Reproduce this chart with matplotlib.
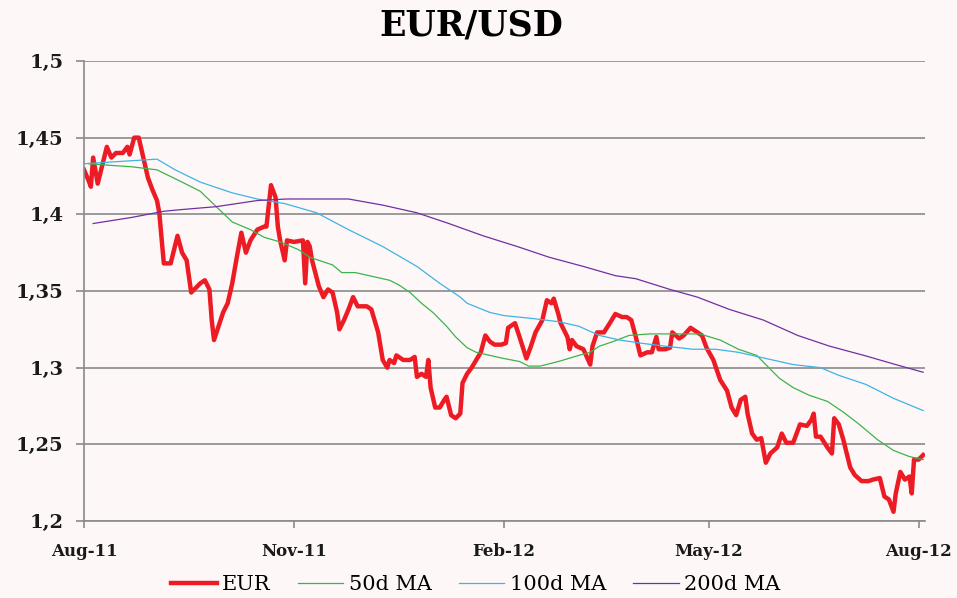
import pandas as pd
import matplotlib
matplotlib.use("Agg")
import matplotlib.pyplot as plt
import matplotlib.dates as mdates
from matplotlib.ticker import FuncFormatter, MultipleLocator

plt.rcParams['font.family'] = ['DejaVu Serif']

# EUR/USD spot
eur_dates = [
    "2011-08-01", "2011-08-03", "2011-08-04", "2011-08-05", "2011-08-07", "2011-08-11",
    "2011-08-13", "2011-08-15", "2011-08-18", "2011-08-20", "2011-08-21", "2011-08-23",
    "2011-08-25", "2011-08-27", "2011-08-29", "2011-08-31", "2011-09-02", "2011-09-03",
    "2011-09-05", "2011-09-08", "2011-09-11", "2011-09-13", "2011-09-15", "2011-09-17",
    "2011-09-19", "2011-09-21", "2011-09-23", "2011-09-25", "2011-09-26", "2011-09-27",
    "2011-10-01", "2011-10-03", "2011-10-05", "2011-10-07", "2011-10-09", "2011-10-11",
    "2011-10-13", "2011-10-16", "2011-10-19", "2011-10-20", "2011-10-22", "2011-10-24",
    "2011-10-25", "2011-10-26", "2011-10-28", "2011-10-29", "2011-11-01", "2011-11-05",
    "2011-11-06", "2011-11-07", "2011-11-08", "2011-11-09", "2011-11-12", "2011-11-14",
    "2011-11-16", "2011-11-18", "2011-11-20", "2011-11-21", "2011-11-23", "2011-11-25",
    "2011-11-27", "2011-11-29", "2011-12-03", "2011-12-05", "2011-12-08", "2011-12-10",
    "2011-12-12", "2011-12-13", "2011-12-15", "2011-12-16", "2011-12-19", "2011-12-22",
    "2011-12-24", "2011-12-25", "2011-12-27", "2011-12-29", "2011-12-30", "2011-12-31",
    "2012-01-02", "2012-01-04", "2012-01-06", "2012-01-07", "2012-01-09", "2012-01-11",
    "2012-01-13", "2012-01-14", "2012-01-16", "2012-01-18", "2012-01-20", "2012-01-22",
    "2012-01-24", "2012-01-26", "2012-01-28", "2012-01-31", "2012-02-02", "2012-02-03",
    "2012-02-06", "2012-02-08", "2012-02-11", "2012-02-13", "2012-02-15", "2012-02-18",
    "2012-02-20", "2012-02-22", "2012-02-23", "2012-02-25", "2012-02-26", "2012-02-29",
    "2012-03-01", "2012-03-02", "2012-03-04", "2012-03-07", "2012-03-10", "2012-03-11",
    "2012-03-13", "2012-03-16", "2012-03-19", "2012-03-21", "2012-03-24", "2012-03-26",
    "2012-03-28", "2012-03-30", "2012-04-01", "2012-04-04", "2012-04-06", "2012-04-08",
    "2012-04-09", "2012-04-12", "2012-04-14", "2012-04-15", "2012-04-18", "2012-04-20",
    "2012-04-23", "2012-04-26", "2012-04-28", "2012-04-30", "2012-05-03", "2012-05-06",
    "2012-05-09", "2012-05-11", "2012-05-13", "2012-05-15", "2012-05-17", "2012-05-18",
    "2012-05-20", "2012-05-22", "2012-05-24", "2012-05-26", "2012-05-28", "2012-05-31",
    "2012-06-02", "2012-06-04", "2012-06-07", "2012-06-10", "2012-06-13", "2012-06-15",
    "2012-06-16", "2012-06-17", "2012-06-19", "2012-06-22", "2012-06-24", "2012-06-25",
    "2012-06-27", "2012-06-29", "2012-07-02", "2012-07-04", "2012-07-07", "2012-07-10",
    "2012-07-12", "2012-07-15", "2012-07-17", "2012-07-19", "2012-07-21", "2012-07-22",
    "2012-07-24", "2012-07-26", "2012-07-28", "2012-07-29", "2012-07-30", "2012-08-01",
    "2012-08-03",
]
eur_values = [
    1.429, 1.422, 1.418, 1.437, 1.420, 1.444,
    1.437, 1.440, 1.440, 1.444, 1.439, 1.450,
    1.450, 1.437, 1.424, 1.416, 1.409, 1.401,
    1.368, 1.368, 1.386, 1.375, 1.370, 1.349,
    1.352, 1.355, 1.357, 1.351, 1.331, 1.318,
    1.336, 1.342, 1.355, 1.372, 1.388, 1.375,
    1.383, 1.390, 1.392, 1.392, 1.419, 1.411,
    1.392, 1.383, 1.370, 1.383, 1.382, 1.383,
    1.355, 1.382, 1.379, 1.370, 1.353, 1.346,
    1.351, 1.349, 1.336, 1.325, 1.331, 1.338,
    1.346, 1.340, 1.340, 1.338, 1.323, 1.305,
    1.300, 1.305, 1.303, 1.308, 1.305, 1.305,
    1.307, 1.294, 1.296, 1.294, 1.305, 1.287,
    1.274, 1.274, 1.279, 1.281, 1.269, 1.267,
    1.270, 1.290, 1.296, 1.300, 1.305, 1.310,
    1.321, 1.317, 1.315, 1.315, 1.316, 1.326,
    1.329, 1.320, 1.306, 1.314, 1.323, 1.331,
    1.344, 1.342, 1.345, 1.335, 1.329, 1.320,
    1.312, 1.318, 1.314, 1.312, 1.302, 1.314,
    1.323, 1.323, 1.330, 1.335, 1.333, 1.333,
    1.331, 1.320, 1.308, 1.310, 1.310, 1.320,
    1.312, 1.312, 1.313, 1.323, 1.319, 1.321,
    1.326, 1.323, 1.321, 1.313, 1.305, 1.292,
    1.285, 1.274, 1.269, 1.279, 1.281, 1.270,
    1.257, 1.253, 1.254, 1.238, 1.244, 1.248,
    1.257, 1.251, 1.251, 1.263, 1.262, 1.266,
    1.270, 1.255, 1.255, 1.248, 1.244, 1.267,
    1.263, 1.253, 1.235, 1.230, 1.226, 1.226,
    1.227, 1.228, 1.216, 1.214, 1.206, 1.218,
    1.232, 1.227, 1.229, 1.218, 1.240, 1.240,
    1.243,
]

ma50_dates = [
    "2011-08-03", "2011-08-12", "2011-08-22", "2011-09-02", "2011-09-13", "2011-09-21",
    "2011-09-28", "2011-10-05", "2011-10-13", "2011-10-19", "2011-10-26", "2011-11-03",
    "2011-11-08", "2011-11-18", "2011-11-22", "2011-11-28", "2011-12-07", "2011-12-13",
    "2011-12-17", "2011-12-22", "2011-12-27", "2012-01-01", "2012-01-07", "2012-01-11",
    "2012-01-16", "2012-01-20", "2012-01-26", "2012-02-01", "2012-02-08", "2012-02-12",
    "2012-02-17", "2012-02-25", "2012-03-05", "2012-03-10", "2012-03-14", "2012-03-20",
    "2012-03-27", "2012-04-05", "2012-04-15", "2012-04-27", "2012-05-06", "2012-05-14",
    "2012-05-22", "2012-05-26", "2012-06-01", "2012-06-07", "2012-06-14", "2012-06-22",
    "2012-06-29", "2012-07-06", "2012-07-14", "2012-07-21", "2012-07-28", "2012-08-03",
]
ma50_values = [
    1.433, 1.432, 1.431, 1.429, 1.421, 1.415,
    1.405, 1.395, 1.390, 1.385, 1.382, 1.377,
    1.372, 1.367, 1.362, 1.362, 1.359, 1.357,
    1.354, 1.349, 1.342, 1.336, 1.327, 1.320,
    1.313, 1.310, 1.308, 1.306, 1.304, 1.301,
    1.301, 1.304, 1.308, 1.310, 1.314, 1.317,
    1.321, 1.322, 1.322, 1.322, 1.318, 1.312,
    1.308, 1.302, 1.293, 1.287, 1.282, 1.278,
    1.271, 1.263, 1.253, 1.246, 1.242, 1.240,
]

ma100_dates = [
    "2011-08-01", "2011-09-02", "2011-09-10", "2011-09-21", "2011-10-05", "2011-10-16",
    "2011-10-28", "2011-11-11", "2011-11-25", "2011-12-10", "2011-12-25", "2012-01-04",
    "2012-01-13", "2012-01-16", "2012-01-26", "2012-02-01", "2012-02-14", "2012-02-25",
    "2012-03-05", "2012-03-14", "2012-03-23", "2012-04-01", "2012-04-12", "2012-04-24",
    "2012-05-04", "2012-05-14", "2012-05-26", "2012-06-07", "2012-06-19", "2012-06-27",
    "2012-07-09", "2012-07-21", "2012-08-03",
]
ma100_values = [
    1.433, 1.436, 1.429, 1.421, 1.414, 1.410,
    1.407, 1.401, 1.390, 1.379, 1.366, 1.355,
    1.346, 1.342, 1.336, 1.334, 1.332, 1.330,
    1.327, 1.321, 1.318, 1.316, 1.314, 1.312,
    1.312, 1.310, 1.306, 1.302, 1.300, 1.295,
    1.289, 1.280, 1.272,
]

ma200_dates = [
    "2011-08-05", "2011-08-22", "2011-09-05", "2011-09-12", "2011-09-28", "2011-10-16",
    "2011-10-29", "2011-11-12", "2011-11-25", "2011-12-10", "2011-12-25", "2012-01-08",
    "2012-01-23", "2012-02-07", "2012-02-21", "2012-03-07", "2012-03-21", "2012-03-30",
    "2012-04-14", "2012-04-26", "2012-05-10", "2012-05-25", "2012-06-09", "2012-06-23",
    "2012-07-08", "2012-07-22", "2012-08-03",
]
ma200_values = [
    1.394, 1.398, 1.402, 1.403, 1.405, 1.409,
    1.410, 1.410, 1.410, 1.406, 1.401, 1.394,
    1.386, 1.379, 1.372, 1.366, 1.360, 1.358,
    1.351, 1.346, 1.338, 1.331, 1.321, 1.314,
    1.308, 1.302, 1.297,
]

fig = plt.figure(figsize=(9.57, 5.98), dpi=100, facecolor='#fdf7f8')
ax = fig.add_axes([0.0878, 0.1288, 0.8792, 0.7692])
ax.set_facecolor('none')

ax.plot(pd.to_datetime(ma50_dates), ma50_values, color='#3cb44b', lw=0.9, label='50d MA', zorder=3)
ax.plot(pd.to_datetime(ma100_dates), ma100_values, color='#3fb3e6', lw=0.9, label='100d MA', zorder=3)
ax.plot(pd.to_datetime(ma200_dates), ma200_values, color='#7030a0', lw=0.9, label='200d MA', zorder=3)
ax.plot(pd.to_datetime(eur_dates), eur_values, color='#ed1c24', lw=3.2, label='EUR',
        solid_joinstyle='round', zorder=2)

ax.set_ylim(1.2, 1.5)
ax.set_xlim(pd.Timestamp('2011-08-01'), pd.Timestamp('2012-08-04'))
ax.yaxis.set_major_locator(MultipleLocator(0.05))
ax.yaxis.set_major_formatter(FuncFormatter(lambda v, p: f"{v:.2f}".rstrip('0').replace('.', ',')))
ax.xaxis.set_major_locator(mdates.MonthLocator(bymonth=[2, 5, 8, 11]))
ax.xaxis.set_major_formatter(mdates.DateFormatter('%b-%y'))

ax.grid(axis='y', color='#8a8a8a', lw=1.2)
ax.set_axisbelow(True)
for s in ['top', 'right']:
    ax.spines[s].set_visible(False)
for s in ['left', 'bottom']:
    ax.spines[s].set_color('#8a8a8a')
    ax.spines[s].set_linewidth(1.2)

ax.tick_params(axis='y', length=6, width=1.2, color='#8a8a8a', pad=9, labelsize=14)
ax.tick_params(axis='x', length=5, width=1.2, color='#8a8a8a', pad=11, labelsize=12)
for lab in ax.get_yticklabels() + ax.get_xticklabels():
    lab.set_fontweight('bold')
    lab.set_color('#1a1a1a')

fig.text(0.492, 0.958, 'EUR/USD', ha='center', va='center', fontsize=25, fontweight='bold')

h, l = ax.get_legend_handles_labels()
order = [3, 0, 1, 2]
leg = fig.legend([h[i] for i in order], [l[i] for i in order], loc='center',
                 bbox_to_anchor=(0.497, 0.022), ncol=4, frameon=False, fontsize=15,
                 handlelength=2.2, handletextpad=0.25, columnspacing=1.3)

fig.savefig('out.png', dpi=100, facecolor=fig.get_facecolor())
